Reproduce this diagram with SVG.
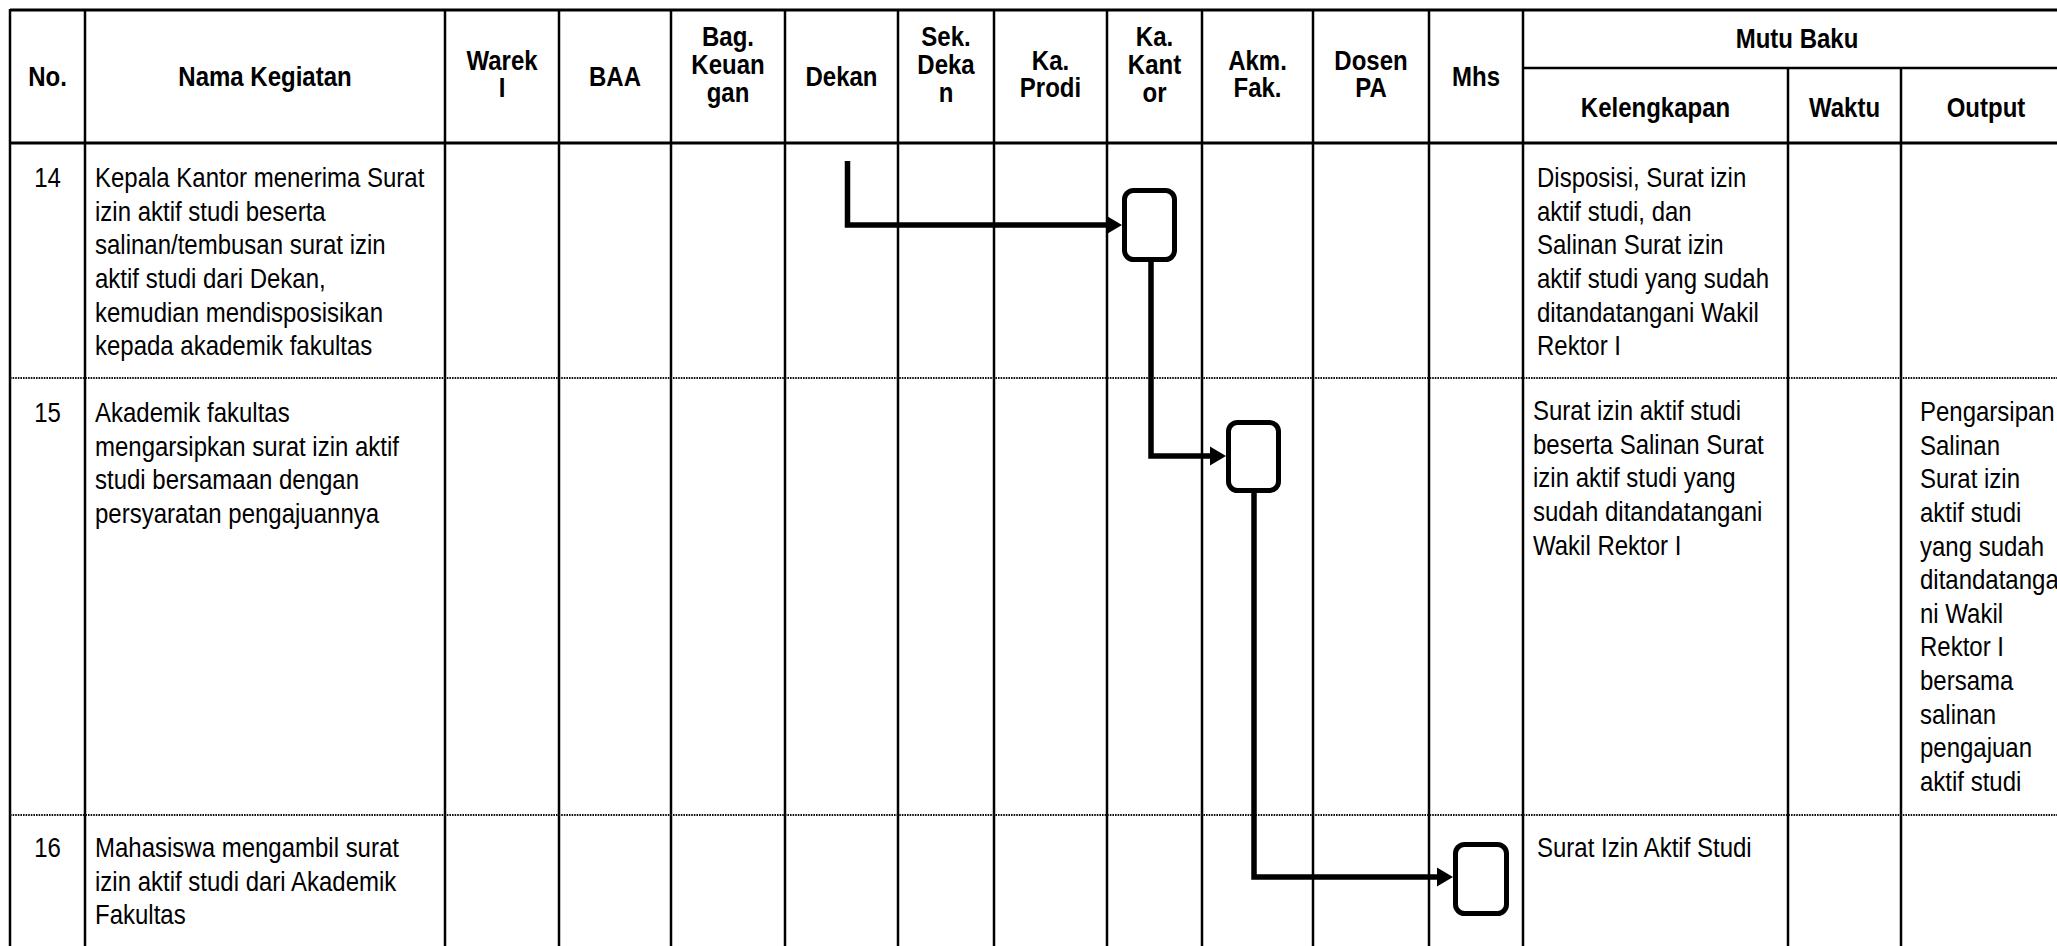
<svg xmlns="http://www.w3.org/2000/svg" width="2057" height="946" viewBox="0 0 2057 946">
  <style>
    .grid { stroke: #000; stroke-width: 2.5; fill: none; }
    .rule { stroke: #000; stroke-width: 3; fill: none; }
    .dots { stroke: #111; stroke-width: 2; stroke-dasharray: 1.6 1; fill: none; }
    .hd { font-family: "Liberation Sans", Arial, sans-serif; font-weight: bold; font-size: 24px; fill: #000; text-anchor: middle; }
    .tx { font-family: "Liberation Sans", Arial, sans-serif; font-size: 24px; fill: #000; }
    .num { text-anchor: middle; }
    .step { fill: #fff; stroke: #000; stroke-width: 5; }
    .flow { fill: none; stroke: #000; stroke-width: 5.5; stroke-linejoin: miter; stroke-linecap: butt; }
  </style>
  <defs>
    <marker id="arrow" markerUnits="userSpaceOnUse" markerWidth="16" markerHeight="19" refX="0" refY="9.5" orient="auto" overflow="visible">
      <path d="M0,0 L16,9.5 L0,19 Z" fill="#000"/>
    </marker>
  </defs>

  <rect width="2057" height="946" fill="#fff"/>

  <!-- table grid -->
  <g id="grid">
    <line class="rule" x1="10" y1="10" x2="2057" y2="10"/>
    <line class="rule" x1="10" y1="143" x2="2057" y2="143"/>
    <line class="grid" x1="1523" y1="68" x2="2057" y2="68"/>
    <line class="grid" x1="10" y1="9" x2="10" y2="946"/>
    <line class="grid" x1="85" y1="10" x2="85" y2="946"/>
    <line class="grid" x1="445" y1="10" x2="445" y2="946"/>
    <line class="grid" x1="559" y1="10" x2="559" y2="946"/>
    <line class="grid" x1="671" y1="10" x2="671" y2="946"/>
    <line class="grid" x1="785" y1="10" x2="785" y2="946"/>
    <line class="grid" x1="898" y1="10" x2="898" y2="946"/>
    <line class="grid" x1="994" y1="10" x2="994" y2="946"/>
    <line class="grid" x1="1107" y1="10" x2="1107" y2="946"/>
    <line class="grid" x1="1202" y1="10" x2="1202" y2="946"/>
    <line class="grid" x1="1313" y1="10" x2="1313" y2="946"/>
    <line class="grid" x1="1429" y1="10" x2="1429" y2="946"/>
    <line class="grid" x1="1523" y1="10" x2="1523" y2="946"/>
    <line class="grid" x1="1788" y1="68" x2="1788" y2="946"/>
    <line class="grid" x1="1901" y1="68" x2="1901" y2="946"/>
    <line class="dots" x1="10" y1="378" x2="2057" y2="378"/>
    <line class="dots" x1="10" y1="815" x2="2057" y2="815"/>
  </g>

  <!-- column headings -->
  <g id="header">
    <text class="hd" transform="translate(47.5,86) scale(1,1.15)">No.</text>
    <text class="hd" transform="translate(265,86) scale(1,1.15)">Nama Kegiatan</text>
    <text class="hd" transform="translate(502,70) scale(1,1.15)"><tspan x="0">Warek</tspan><tspan x="0" dy="23.5">I</tspan></text>
    <text class="hd" transform="translate(615,86) scale(1,1.15)">BAA</text>
    <text class="hd" transform="translate(728,45.5) scale(1,1.15)"><tspan x="0">Bag.</tspan><tspan x="0" dy="24.5">Keuan</tspan><tspan x="0" dy="24.5">gan</tspan></text>
    <text class="hd" transform="translate(841.5,86) scale(1,1.15)">Dekan</text>
    <text class="hd" transform="translate(946,45.5) scale(1,1.15)"><tspan x="0">Sek.</tspan><tspan x="0" dy="24.5">Deka</tspan><tspan x="0" dy="24.5">n</tspan></text>
    <text class="hd" transform="translate(1050.5,70) scale(1,1.15)"><tspan x="0">Ka.</tspan><tspan x="0" dy="23.5">Prodi</tspan></text>
    <text class="hd" transform="translate(1154.5,45.5) scale(1,1.15)"><tspan x="0">Ka.</tspan><tspan x="0" dy="24.5">Kant</tspan><tspan x="0" dy="24.5">or</tspan></text>
    <text class="hd" transform="translate(1257.5,70) scale(1,1.15)"><tspan x="0">Akm.</tspan><tspan x="0" dy="23.5">Fak.</tspan></text>
    <text class="hd" transform="translate(1371,70) scale(1,1.15)"><tspan x="0">Dosen</tspan><tspan x="0" dy="23.5">PA</tspan></text>
    <text class="hd" transform="translate(1476,86) scale(1,1.15)">Mhs</text>
    <text class="hd" transform="translate(1797,48) scale(1,1.15)">Mutu Baku</text>
    <text class="hd" transform="translate(1655.5,117) scale(1,1.15)">Kelengkapan</text>
    <text class="hd" transform="translate(1844.5,117) scale(1,1.15)">Waktu</text>
    <text class="hd" transform="translate(1986,117) scale(1,1.15)">Output</text>
  </g>

  <!-- row 14 -->
  <g id="row14">
    <text class="tx num" transform="translate(47.5,187) scale(1,1.18)">14</text>
    <text class="tx" transform="translate(95,187) scale(1,1.18)"><tspan x="0">Kepala Kantor menerima Surat</tspan><tspan x="0" dy="28.5">izin aktif studi beserta</tspan><tspan x="0" dy="28.5">salinan/tembusan surat izin</tspan><tspan x="0" dy="28.5">aktif studi dari Dekan,</tspan><tspan x="0" dy="28.5">kemudian mendisposisikan</tspan><tspan x="0" dy="28.5">kepada akademik fakultas</tspan></text>
    <text class="tx" transform="translate(1537,187) scale(1,1.18)"><tspan x="0">Disposisi, Surat izin</tspan><tspan x="0" dy="28.5">aktif studi, dan</tspan><tspan x="0" dy="28.5">Salinan Surat izin</tspan><tspan x="0" dy="28.5">aktif studi yang sudah</tspan><tspan x="0" dy="28.5">ditandatangani Wakil</tspan><tspan x="0" dy="28.5">Rektor I</tspan></text>
  </g>

  <!-- row 15 -->
  <g id="row15">
    <text class="tx num" transform="translate(47.5,422) scale(1,1.18)">15</text>
    <text class="tx" transform="translate(95,422) scale(1,1.18)"><tspan x="0">Akademik fakultas</tspan><tspan x="0" dy="28.5">mengarsipkan surat izin aktif</tspan><tspan x="0" dy="28.5">studi bersamaan dengan</tspan><tspan x="0" dy="28.5">persyaratan pengajuannya</tspan></text>
    <text class="tx" transform="translate(1533,420) scale(1,1.18)"><tspan x="0">Surat izin aktif studi</tspan><tspan x="0" dy="28.5">beserta Salinan Surat</tspan><tspan x="0" dy="28.5">izin aktif studi yang</tspan><tspan x="0" dy="28.5">sudah ditandatangani</tspan><tspan x="0" dy="28.5">Wakil Rektor I</tspan></text>
    <text class="tx" transform="translate(1920,421) scale(1,1.18)"><tspan x="0">Pengarsipan</tspan><tspan x="0" dy="28.5">Salinan</tspan><tspan x="0" dy="28.5">Surat izin</tspan><tspan x="0" dy="28.5">aktif studi</tspan><tspan x="0" dy="28.5">yang sudah</tspan><tspan x="0" dy="28.5">ditandatanga</tspan><tspan x="0" dy="28.5">ni Wakil</tspan><tspan x="0" dy="28.5">Rektor I</tspan><tspan x="0" dy="28.5">bersama</tspan><tspan x="0" dy="28.5">salinan</tspan><tspan x="0" dy="28.5">pengajuan</tspan><tspan x="0" dy="28.5">aktif studi</tspan></text>
  </g>

  <!-- row 16 -->
  <g id="row16">
    <text class="tx num" transform="translate(47.5,857) scale(1,1.18)">16</text>
    <text class="tx" transform="translate(95,857) scale(1,1.18)"><tspan x="0">Mahasiswa mengambil surat</tspan><tspan x="0" dy="28.5">izin aktif studi dari Akademik</tspan><tspan x="0" dy="28.5">Fakultas</tspan></text>
    <text class="tx" transform="translate(1537,857) scale(1,1.18)">Surat Izin Aktif Studi</text>
  </g>

  <!-- flow connectors -->
  <g id="connectors">
    <path class="flow" d="M847.5,161 V225 H1106" marker-end="url(#arrow)"/>
    <path class="flow" d="M1151,262 V456 H1210" marker-end="url(#arrow)"/>
    <path class="flow" d="M1254,493 V877 H1437" marker-end="url(#arrow)"/>
  </g>

  <!-- process steps -->
  <g id="step-kakantor">
    <rect class="step" x="1124.5" y="190.5" width="50" height="69" rx="9"/>
  </g>
  <g id="step-akmfak">
    <rect class="step" x="1228.5" y="422.5" width="50" height="68" rx="9"/>
  </g>
  <g id="step-mhs">
    <rect class="step" x="1455.5" y="844.5" width="51" height="69" rx="9"/>
  </g>
</svg>
